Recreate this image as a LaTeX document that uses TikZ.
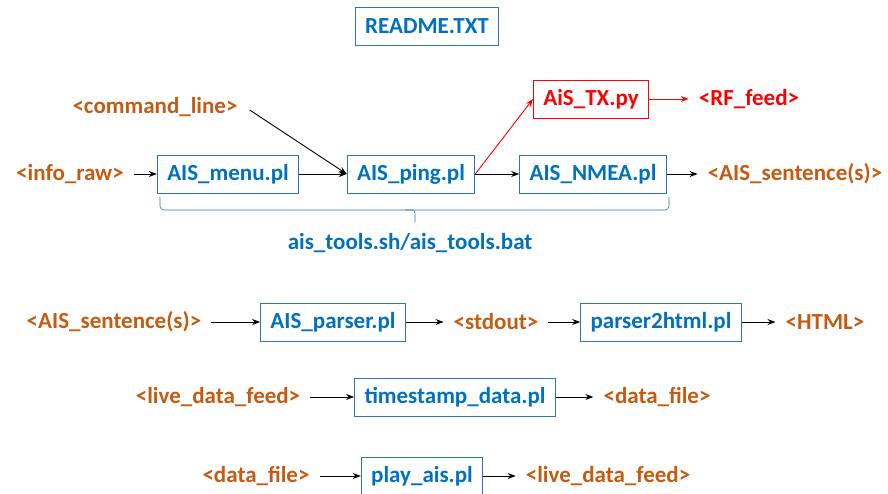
\documentclass[tikz,border=0pt]{standalone}
\usepackage{fontspec}
\setmainfont{Carlito}
\usetikzlibrary{arrows.meta}

\definecolor{fileblue}{RGB}{0,112,192}
\definecolor{boxblue}{RGB}{46,117,182}
\definecolor{ioorange}{RGB}{197,90,17}
\definecolor{txred}{RGB}{255,0,0}

\begin{document}
\begin{tikzpicture}[x=1pt,y=-1pt,
    every node/.style={font=\fontsize{23}{27}\selectfont\bfseries},
    prog/.style={draw=boxblue,line width=0.8pt,text=fileblue,minimum height=38pt,inner xsep=10pt},
    io/.style={text=ioorange,inner xsep=10pt,inner ysep=1pt},
    flow/.style={-{Stealth[length=8pt,width=6pt]},line width=0.9pt}]
    \useasboundingbox (0,0) rectangle (888,493);

    \node[prog] (readme) at (427,26) {README.TXT};

    % top block
    \node[io] (cmd) at (155,107) {<command\_line>};
    \node[prog,draw=txred,text=txred] (tx) at (591,99) {AiS\_TX.py};
    \node[io,text=txred] (rf) at (749,99) {<RF\_feed>};

    \node[io] (raw) at (70,174) {<info\_raw>};
    \node[prog] (menu) at (228,174) {AIS\_menu.pl};
    \node[prog] (ping) at (411,174) {AIS\_ping.pl};
    \node[prog] (nmea) at (593,174) {AIS\_NMEA.pl};
    \node[io] (sent) at (795,174) {<AIS\_sentence(s)>};

    \coordinate (c1) at ([shift={(2,3)}]cmd.east);
    \draw[flow] (raw) -- (menu);
    \draw[flow] (menu) -- (ping);
    \draw[flow] (c1) -- (ping.west);
    \draw[flow] (ping) -- (nmea);
    \draw[flow] (nmea) -- (sent);
    \draw[flow,txred] (ping.east) -- (tx.west);
    \draw[flow,txred] (tx) -- (rf);

    \draw[boxblue,line width=0.6pt,rounded corners=4pt] (160,197) -- (160,210) -- (669,210) -- (669,197);
    \draw[boxblue,line width=0.6pt,rounded corners=3pt] (405,210) -- (415,210) -- (415,222);
    \node[text=fileblue] (tools) at (410,243) {ais\_tools.sh/ais\_tools.bat};

    % parser chain
    \node[io] (sent2) at (114,322) {<AIS\_sentence(s)>};
    \node[prog] (parser) at (333,322) {AIS\_parser.pl};
    \node[io] (stdout) at (496,322) {<stdout>};
    \node[prog] (p2h) at (661,322) {parser2html.pl};
    \node[io] (html) at (825,322) {<HTML>};

    \draw[flow] (sent2) -- (parser);
    \draw[flow] (parser) -- (stdout);
    \draw[flow] (stdout) -- (p2h);
    \draw[flow] (p2h) -- (html);

    % timestamp
    \node[io] (live) at (218,397) {<live\_data\_feed>};
    \node[prog] (stamp) at (455,397) {timestamp\_data.pl};
    \node[io] (dfile) at (657,397) {<data\_file>};

    \draw[flow] (live) -- (stamp);
    \draw[flow] (stamp) -- (dfile);

    % playback
    \node[io] (dfile2) at (256,476) {<data\_file>};
    \node[prog] (play) at (422,476) {play\_ais.pl};
    \node[io] (live2) at (608,476) {<live\_data\_feed>};

    \draw[flow] (dfile2) -- (play);
    \draw[flow] (play) -- (live2);
\end{tikzpicture}
\end{document}
